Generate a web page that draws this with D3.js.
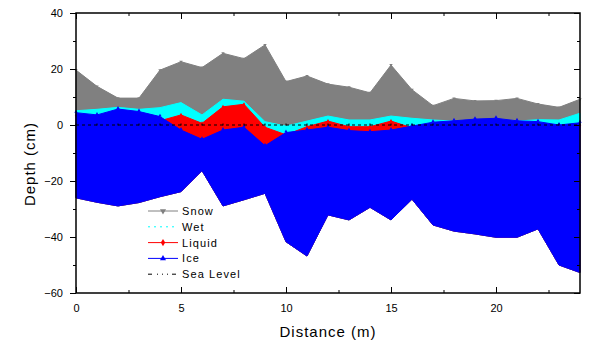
<!DOCTYPE html>
<html>
<head>
<meta charset="utf-8">
<script src="https://cdn.jsdelivr.net/npm/d3@7"></script>
<style>
  body { margin: 0; background: #fff; }
  text { font-family: "Liberation Sans", Arial, sans-serif; }
</style>
</head>
<body>
<div id="chart"></div>
<script>
// distance along the transect (m)
const distance = d3.range(0, 25);

// boundaries (cm relative to sea level)
const snowTop   = [19.6, 13.8, 9.6, 9.6, 19.6, 22.6, 20.5, 25.6, 23.7, 28.6, 15.5, 17.5, 14.6, 13.5, 11.5, 21.4, 12.6, 6.9, 9.5, 8.6, 8.7, 9.5, 7.5, 6.3, 9.2];
const wetTop    = [5.1, 5.6, 6.3, 5.6, 6.2, 8.0, 3.6, 9.2, 8.5, 1.2, -0.4, 1.4, 3.2, 1.8, 1.8, 3.2, 2.4, 1.8, 1.4, 1.8, 2.0, 1.4, 1.9, 1.8, 4.2];
const liquidTop = [3.4, 2.6, 4.7, 3.8, 1.5, 3.6, 0.6, 6.5, 7.4, -0.8, -3.5, -0.6, 1.4, -0.6, -0.6, 1.4, -1.0, 0.0, 0.5, 1.1, 1.4, 0.5, 0.2, -1.0, -0.2];
const iceTop    = [4.4, 3.6, 5.7, 4.8, 3.0, -1.8, -5.1, -1.8, -0.8, -7.4, -2.7, -1.8, -0.8, -2.0, -2.4, -1.8, -0.4, 1.0, 1.5, 2.1, 2.4, 1.5, 1.2, 0.0, 0.8];
const iceBottom = [-26, -27.6, -28.9, -27.7, -25.6, -23.8, -16.3, -28.9, -26.7, -24.4, -41.7, -46.8, -32.1, -33.9, -29.4, -33.9, -26.5, -35.7, -37.9, -38.9, -40.1, -40.1, -37.1, -50, -52.7];
const seaLevel  = distance.map(() => 0);

const xTicks = [0, 5, 10, 15, 20];
const yTicks = [-60, -40, -20, 0, 20, 40];

const width = 600, height = 350;
const margin = {top: 13, right: 20, bottom: 57, left: 76};
const innerW = width - margin.left - margin.right;
const innerH = height - margin.top - margin.bottom;

const x = d3.scaleLinear().domain([0, 24]).range([0, innerW]);
const y = d3.scaleLinear().domain([-60, 40]).range([innerH, 0]);

const svg = d3.select('#chart').append('svg')
  .attr('width', width)
  .attr('height', height);

const g = svg.append('g')
  .attr('transform', `translate(${margin.left},${margin.top})`);

// fill layers, each down to the ice bottom, painted in order
const layers = [
  {name: 'Snow', top: snowTop, color: '#808080', marker: 'down'},
  {name: 'Wet', top: wetTop, color: '#00ffff', marker: null},
  {name: 'Liquid', top: liquidTop, color: '#ff0000', marker: 'diamond'},
  {name: 'Ice', top: iceTop, color: '#0000ff', marker: 'up'}
];

const symbolFor = {
  down: d3.symbol().type(d3.symbolTriangle).size(5),
  up: d3.symbol().type(d3.symbolTriangle).size(5),
  diamond: d3.symbol().type(d3.symbolDiamond).size(5)
};

layers.forEach(layer => {
  const area = d3.area()
    .x((d, i) => x(distance[i]))
    .y0((d, i) => y(iceBottom[i]))
    .y1(d => y(d));

  g.append('path')
    .datum(layer.top)
    .attr('d', area)
    .attr('fill', layer.color)
    .attr('stroke', layer.color)
    .attr('stroke-width', 1);

  if (layer.marker) {
    g.selectAll(null)
      .data(layer.top)
      .enter().append('path')
      .attr('d', symbolFor[layer.marker])
      .attr('transform', (d, i) => `translate(${x(distance[i])},${y(d) - (layer.marker === 'up' ? 1 : 0)})${layer.marker === 'down' ? ' rotate(180)' : ''}`)
      .attr('fill', layer.color);
  }
});

// sea level
g.append('path')
  .datum(seaLevel)
  .attr('d', d3.line().x((d, i) => x(distance[i])).y(d => y(d)))
  .attr('fill', 'none')
  .attr('stroke', '#000')
  .attr('stroke-width', 1)
  .attr('stroke-dasharray', '3,3');

g.selectAll('.sl')
  .data(seaLevel)
  .enter().append('rect')
  .attr('x', (d, i) => x(distance[i]) - 0.5)
  .attr('y', d => y(d) - 1.5)
  .attr('width', 1)
  .attr('height', 2)
  .attr('fill', '#000');

// axes
const axisStyle = sel => {
  sel.select('.domain').remove();
  sel.selectAll('line').attr('stroke', '#000').attr('stroke-width', 1);
  sel.selectAll('text').attr('font-size', 11).attr('fill', '#000');
};

// bottom, ticks inward
g.append('g')
  .attr('transform', `translate(0,${innerH})`)
  .call(d3.axisBottom(x).tickValues(xTicks).tickSize(-6).tickPadding(11).tickFormat(d3.format('d')))
  .call(axisStyle);
g.append('g')
  .attr('transform', `translate(0,${innerH})`)
  .call(d3.axisBottom(x).tickValues(d3.range(2.5, 25, 5)).tickSize(-3).tickFormat(''))
  .call(axisStyle);

// top, ticks inward
g.append('g')
  .call(d3.axisTop(x).tickValues(xTicks).tickSize(-6).tickFormat(''))
  .call(axisStyle);
g.append('g')
  .call(d3.axisTop(x).tickValues(d3.range(2.5, 25, 5)).tickSize(-3).tickFormat(''))
  .call(axisStyle);

// left, ticks outward
g.append('g')
  .call(d3.axisLeft(y).tickValues(yTicks).tickSize(6).tickPadding(7))
  .call(axisStyle);
g.append('g')
  .call(d3.axisLeft(y).tickValues(d3.range(-50, 40, 20)).tickSize(3).tickFormat(''))
  .call(axisStyle);

// right, ticks inward
g.append('g')
  .attr('transform', `translate(${innerW},0)`)
  .call(d3.axisRight(y).tickValues(yTicks).tickSize(-6).tickFormat(''))
  .call(axisStyle);
g.append('g')
  .attr('transform', `translate(${innerW},0)`)
  .call(d3.axisRight(y).tickValues(d3.range(-50, 40, 20)).tickSize(-3).tickFormat(''))
  .call(axisStyle);

// frame
g.append('rect')
  .attr('width', innerW)
  .attr('height', innerH)
  .attr('fill', 'none')
  .attr('stroke', '#000')
  .attr('stroke-width', 1.5);

// axis titles
svg.append('text')
  .attr('x', margin.left + innerW / 2)
  .attr('y', 337)
  .attr('text-anchor', 'middle')
  .attr('font-size', 15)
  .attr('letter-spacing', 1)
  .text('Distance (m)');

svg.append('text')
  .attr('transform', `translate(35,${164}) rotate(-90)`)
  .attr('text-anchor', 'middle')
  .attr('font-size', 15)
  .attr('letter-spacing', 1)
  .text('Depth (cm)');

// legend
const legendItems = [
  {label: 'Snow', color: '#808080', dash: null, marker: 'down'},
  {label: 'Wet', color: '#00ffff', dash: '2,4', marker: null},
  {label: 'Liquid', color: '#ff0000', dash: null, marker: 'diamond'},
  {label: 'Ice', color: '#0000ff', dash: null, marker: 'up'},
  {label: 'Sea Level', color: '#000', dash: '4,5,1,4,1,4,1,4', marker: null}
];

const legend = svg.append('g').attr('transform', 'translate(148,211)');

const item = legend.selectAll('.item')
  .data(legendItems)
  .enter().append('g')
  .attr('transform', (d, i) => `translate(0,${i * 15.8})`);

item.append('line')
  .attr('x1', 0).attr('x2', 30)
  .attr('stroke', d => d.color)
  .attr('stroke-width', 1)
  .attr('stroke-dasharray', d => d.dash);

const legendSymbol = {
  down: d3.symbol().type(d3.symbolTriangle).size(16),
  up: d3.symbol().type(d3.symbolTriangle).size(16),
  diamond: d3.symbol().type(d3.symbolDiamond).size(16)
};

item.filter(d => d.marker)
  .append('path')
  .attr('d', d => legendSymbol[d.marker]())
  .attr('transform', d => `translate(15,0)${d.marker === 'down' ? ' rotate(180)' : ''}`)
  .attr('fill', d => d.color);

item.append('text')
  .attr('x', 34)
  .attr('dy', '0.36em')
  .attr('font-size', 11)
  .attr('letter-spacing', 1.1)
  .attr('fill', '#000')
  .text(d => d.label);
</script>
</body>
</html>
